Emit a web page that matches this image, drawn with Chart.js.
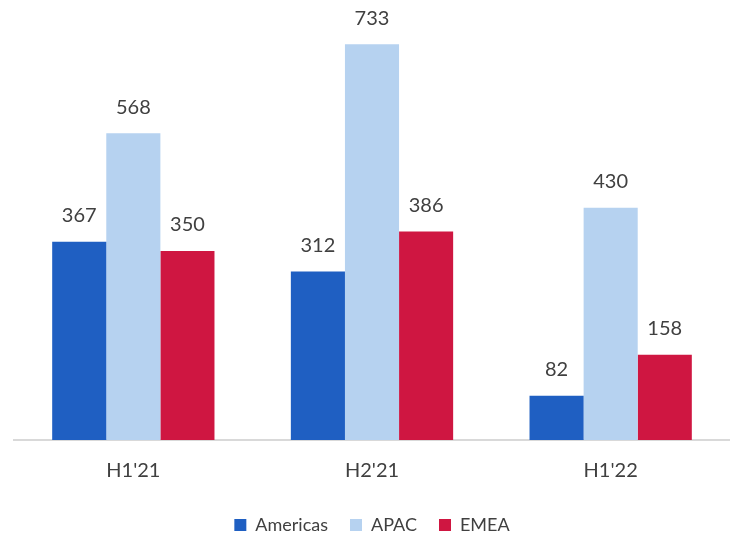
<!DOCTYPE html>
<html>
<head>
<meta charset="utf-8">
<script src="https://cdn.jsdelivr.net/npm/chart.js@4"></script>
<style>
  html, body { margin: 0; padding: 0; background: #fff; }
  #wrap { width: 730px; height: 548px; }
</style>
</head>
<body>
<div id="wrap"><canvas id="chart"></canvas></div>
<script>
const categories = ["H1'21", "H2'21", "H1'22"];
const americas = [367, 312, 82];
const apac = [568, 733, 430];
const emea = [350, 386, 158];

const labelPlugin = {
    id: 'barLabels',
    afterDatasetsDraw(chart) {
        const ctx = chart.ctx;
        ctx.save();
        ctx.font = '20px Lato, sans-serif';
        ctx.fillStyle = '#404040';
        ctx.textAlign = 'center';
        ctx.textBaseline = 'bottom';
        chart.data.datasets.forEach((ds, i) => {
            chart.getDatasetMeta(i).data.forEach((bar, j) => {
                ctx.fillText(ds.data[j], bar.x, bar.y - 16);
            });
        });
        ctx.restore();
    }
};

new Chart(document.getElementById('chart'), {
    type: 'bar',
    data: {
        labels: categories,
        datasets: [
            { label: 'Americas', data: americas, backgroundColor: '#1f5fc2' },
            { label: 'APAC', data: apac, backgroundColor: '#b6d2f0' },
            { label: 'EMEA', data: emea, backgroundColor: '#cf1641' }
        ]
    },
    options: {
        responsive: true,
        maintainAspectRatio: false,
        animation: false,
        layout: { padding: { top: 8, left: 14, right: 0, bottom: 4 } },
        datasets: { bar: { categoryPercentage: 0.68, barPercentage: 1.0 } },
        scales: {
            x: {
                grid: { display: false },
                border: { color: '#d9d9d9', width: 2 },
                ticks: { color: '#404040', font: { family: 'Lato, sans-serif', size: 20 }, padding: 11 }
            },
            y: { display: false, min: 0, max: 800 }
        },
        plugins: {
            legend: {
                position: 'bottom',
                labels: {
                    color: '#404040',
                    font: { family: 'Lato, sans-serif', size: 18 },
                    boxWidth: 12,
                    boxHeight: 12,
                    padding: 22
                }
            },
            tooltip: { enabled: false }
        }
    },
    plugins: [labelPlugin]
});
</script>
</body>
</html>
